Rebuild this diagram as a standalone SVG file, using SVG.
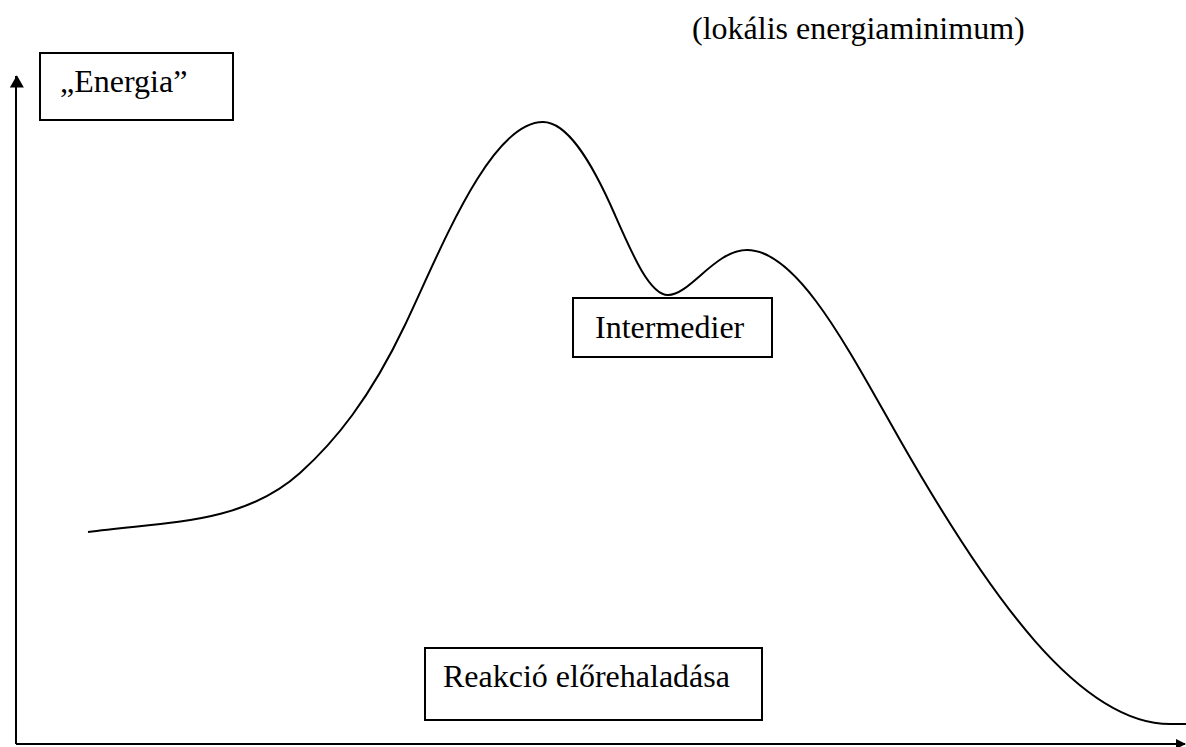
<svg xmlns="http://www.w3.org/2000/svg" width="1186" height="747" viewBox="0 0 1186 747">
<style>
.box{fill:#fff;stroke:#000;stroke-width:2}
.lbl{font-family:"Liberation Serif","Times New Roman",serif;font-size:32px;fill:#000}
.ax{stroke:#000;stroke-width:2;fill:none}
.curve{stroke:#000;stroke-width:2;fill:none}
</style>
<defs>
<marker id="arr" markerWidth="10" markerHeight="10" refX="9" refY="5" orient="auto" markerUnits="userSpaceOnUse" viewBox="0 0 10 10">
<path d="M0,0 L10,5 L0,10 Z" fill="#000"/>
</marker>
<marker id="arrY" markerWidth="16" markerHeight="14" refX="13" refY="7" orient="auto" markerUnits="userSpaceOnUse" viewBox="0 0 14 16">
<path d="M0,0 L14,8 L0,16 Z" fill="#000"/>
</marker>
</defs>
<g id="connectors">
<line class="ax" x1="16" y1="744" x2="16" y2="76" marker-end="url(#arrY)"/>
<line class="ax" x1="16" y1="744" x2="1185" y2="744" marker-end="url(#arr)"/>
<path class="curve" d="M88,532 C158,521.5 240,527 300,473 C335,441.5 370,398.5 405,325 C440,251.5 490,122 543,122 C567,122 591,160 615,215 C633,256 650,295 668,295 C690,295 715,250 747,250 C798,250 849,350.75 900,440 C990,597.5 1080,724 1170,724 L1186,724"/>
</g>
<g id="energia">
<rect class="box" x="40" y="53" width="193" height="67"/>
<text class="lbl" x="60" y="92">„Energia”</text>
</g>
<g id="intermedier">
<rect class="box" x="573" y="298" width="199" height="59"/>
<text class="lbl" x="595" y="338">Intermedier</text>
</g>
<g id="reakcio">
<rect class="box" x="425" y="648" width="337" height="72"/>
<text class="lbl" x="443" y="687">Reakció előrehaladása</text>
</g>
<g id="lokalis">
<text class="lbl" x="692" y="39">(lokális energiaminimum)</text>
</g>
</svg>
